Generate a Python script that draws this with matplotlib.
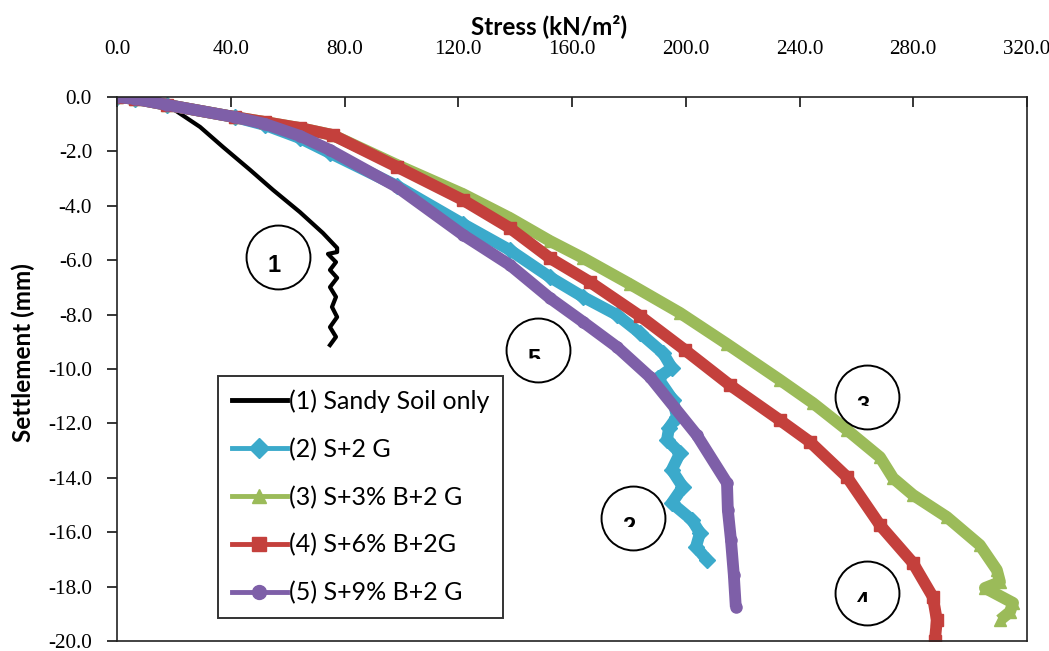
import matplotlib
matplotlib.use("Agg")
import matplotlib.pyplot as plt
from matplotlib.lines import Line2D
from matplotlib.patches import Rectangle
from matplotlib.ticker import FormatStrFormatter, MultipleLocator

plt.rcParams["axes.unicode_minus"] = False

# ------------------------------------------------------------
# data (stress kN/m2, settlement mm)
# ------------------------------------------------------------

s1_stress = [0.0, 8.1, 17.6, 29.2, 37.3, 46.8, 54.9, 64.3, 72.4, 77.4, 77.4, 74.2,
             75.2, 77.0, 74.9, 77.4, 74.9, 77.0, 75.6, 77.4, 74.9, 77.0, 74.9]
s1_settle = [0.0, -0.07, -0.29, -1.10, -1.84, -2.68, -3.42, -4.23, -5.00, -5.55, -5.70, -5.77,
             -5.88, -6.07, -6.36, -6.65, -6.99, -7.35, -7.72, -8.09, -8.46, -8.82, -9.12]

s2_stress = [0.0, 6.3, 17.6, 41.5, 52.0, 64.3, 74.9, 98.5, 121.7, 138.2, 152.2, 163.9,
             175.8, 183.9, 192.0, 195.1, 190.2, 195.5, 196.9, 194.1, 193.4, 198.0, 195.1,
             199.0, 195.1, 202.2, 205.0, 203.6, 207.5]
s2_settle = [0.0, -0.07, -0.29, -0.74, -1.03, -1.51, -2.06, -3.27, -4.67, -5.63, -6.62, -7.35,
             -8.01, -8.68, -9.41, -9.96, -10.33, -11.14, -11.76, -12.17, -12.61, -13.09, -13.71,
             -14.34, -14.93, -15.55, -16.03, -16.54, -17.02]

s3_stress = [0.0, 6.3, 17.6, 41.5, 52.0, 64.3, 75.9, 98.5, 121.7, 138.2, 152.2, 163.9,
             180.4, 198.0, 214.5, 233.1, 244.7, 256.7, 268.3, 272.9, 279.9, 291.8, 303.4,
             309.4, 310.5, 305.2, 315.1, 314.0, 310.5]
s3_settle = [0.0, -0.07, -0.29, -0.74, -0.92, -1.14, -1.40, -2.50, -3.57, -4.45, -5.29, -5.92,
             -6.88, -7.94, -9.08, -10.40, -11.25, -12.24, -13.24, -14.01, -14.63, -15.44, -16.47,
             -17.39, -17.83, -18.05, -18.60, -18.93, -19.23]

s4_stress = [0.0, 6.3, 17.6, 41.5, 52.0, 64.3, 75.9, 98.5, 121.7, 138.2, 152.2, 166.3,
             183.9, 199.7, 215.5, 233.1, 243.7, 256.7, 268.3, 279.9, 286.9, 288.3, 287.6]
s4_settle = [0.0, -0.07, -0.29, -0.74, -0.92, -1.14, -1.40, -2.57, -3.79, -4.82, -5.92, -6.80,
             -8.05, -9.30, -10.59, -11.88, -12.68, -13.97, -15.74, -17.13, -18.38, -19.23, -20.0]

s5_stress = [0.0, 6.3, 17.6, 41.5, 52.0, 64.3, 74.9, 98.5, 121.7, 138.2, 152.2, 163.9,
             175.8, 187.4, 203.9, 214.5, 214.8, 215.9, 216.9, 217.6]
s5_settle = [0.0, -0.07, -0.29, -0.74, -0.99, -1.43, -1.95, -3.31, -5.07, -6.18, -7.39, -8.27,
             -9.19, -10.29, -12.43, -14.19, -15.18, -16.29, -17.57, -18.75]

labels = ["(1) Sandy Soil only", "(2) S+2 G", "(3) S+3% B+2 G",
          "(4) S+6% B+2G", "(5) S+9% B+2 G"]

x_ticks = [0, 40, 80, 120, 160, 200, 240, 280, 320]

# circled curve numbers
tag_text = ["1", "2", "3", "4", "5"]
tag_x = [56.6, 181.4, 263.7, 263.7, 148.0]
tag_y = [-5.88, -15.48, -11.03, -18.24, -9.30]


# ------------------------------------------------------------
# style
# ------------------------------------------------------------

colors = ["#000000", "#3BAACB", "#9BBB59", "#C4403C", "#7E5FA8"]
markers = [None, "D", "^", "s", "o"]

W, H = 1049, 651
fig = plt.figure(figsize=(W / 100, H / 100), dpi=100)
ax = fig.add_axes([117 / W, 10 / H, (1027 - 117) / W, (641 - 97) / H])

series = [
    (s1_stress, s1_settle),
    (s2_stress, s2_settle),
    (s3_stress, s3_settle),
    (s4_stress, s4_settle),
    (s5_stress, s5_settle),
]

for i, (xs, ys) in enumerate(series):
    if i == 0:
        ax.plot(xs, ys, color=colors[i], lw=3, solid_joinstyle="round")
    else:
        ax.plot(xs, ys, color=colors[i], lw=8.5, marker=markers[i], ms=8,
                mec=colors[i], solid_joinstyle="round", solid_capstyle="butt")

# circled numbers
for t, cx, cy in zip(tag_text, tag_x, tag_y):
    ax.plot(cx, cy, "o", ms=46, mfc="white", mec="black", mew=1.4, zorder=5)
    txt = ax.text(cx - 1.5, cy + 0.09, t, ha="center", va="top", fontsize=17,
                  fontweight="bold", family="Liberation Sans", zorder=6, clip_on=True)
    if t != "1":
        clip = Rectangle((cx - 10, cy - 0.32), 20, 1.5, transform=ax.transData)
        txt.set_clip_path(clip)

ax.set_xlim(0, 320)
ax.set_ylim(-20, 0)

ax.xaxis.tick_top()
ax.xaxis.set_label_position("top")
ax.set_xticks(x_ticks)
ax.yaxis.set_major_locator(MultipleLocator(2))
ax.xaxis.set_major_formatter(FormatStrFormatter("%.1f"))
ax.yaxis.set_major_formatter(FormatStrFormatter("%.1f"))

ax.tick_params(axis="x", direction="in", length=7, width=1.1, pad=27,
               labelsize=15.2, labelcolor="black", top=True, bottom=False)
ax.tick_params(axis="y", direction="out", length=7, width=1.1, pad=11,
               labelsize=15.2, labelcolor="black", right=False)
for lab in ax.get_xticklabels() + ax.get_yticklabels():
    lab.set_family("Liberation Serif")

for sp in ax.spines.values():
    sp.set_linewidth(1.2)
    sp.set_color("#222222")

ax.set_xlabel("Stress (kN/m²)", fontsize=17.5, fontweight="bold", family="Lato")
ax.set_ylabel("Settlement (mm)", fontsize=17.5, fontweight="bold", family="Lato")
ax.xaxis.set_label_coords(0.475, 1.115)
ax.yaxis.set_label_coords(-0.09, 0.53)

# legend with proxy handles (thin lines, one marker)
handles = []
for i in range(5):
    handles.append(Line2D([], [], color=colors[i], lw=3.5, marker=markers[i],
                          ms=10, mec=colors[i]))
leg = ax.legend(handles, labels, loc="lower left", bbox_to_anchor=(0.111, 0.042),
                frameon=True, fancybox=False, edgecolor="black",
                prop={"family": "Lato", "size": 18}, handlelength=2.2,
                handletextpad=0.1, labelspacing=0.98, borderpad=0.55,
                numpoints=1, borderaxespad=0)
leg.get_frame().set_linewidth(1.4)

fig.savefig("out.png", dpi=100)
